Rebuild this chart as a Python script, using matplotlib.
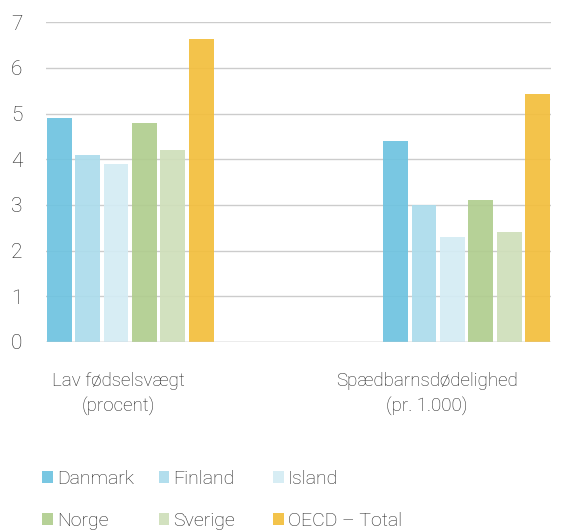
import matplotlib.pyplot as plt
import numpy as np

# data
categories = ["Lav fødselsvægt\n(procent)", "Spædbarnsdødelighed\n(pr. 1.000)"]
series = ["Danmark", "Finland", "Island", "Norge", "Sverige", "OECD – Total"]
danmark = [4.9, 4.4]
finland = [4.1, 3.0]
island = [3.9, 2.3]
norge = [4.8, 3.1]
sverige = [4.2, 2.4]
oecd = [6.64, 5.43]
values = [danmark, finland, island, norge, sverige, oecd]
colors = ["#6ec3e0", "#acdcec", "#d4ecf4", "#b0cd8e", "#cfdfba", "#f3be3c"]

plt.rcParams['font.family'] = ['Roboto', 'DejaVu Sans']
plt.rcParams['font.weight'] = 'light'
txt = "#222222"

fig = plt.figure(figsize=(5.69, 5.30), dpi=100)
ax = fig.add_axes([0.081, 0.355, 0.887, 0.603])

x = np.arange(len(categories))
step = 0.0845
width = 0.074
handles = []
for i, (name, vals) in enumerate(zip(series, values)):
    b = ax.bar(x + (i - 2.5) * step, vals, width, color=colors[i], alpha=0.92,
               label=name, zorder=3)
    handles.append(b)

ax.set_xlim(-0.25, 1.25)
ax.set_ylim(0, 7)
ax.set_yticks(range(0, 8))
ax.grid(axis='y', color='#cccccc', linewidth=1, zorder=0)
ax.axhline(0, color='#cccccc', linewidth=1, zorder=4)
for s in ax.spines.values():
    s.set_visible(False)
ax.tick_params(axis='y', length=0, labelsize=15, labelcolor=txt, pad=17)
ax.set_xticks([-0.034, 0.882])
ax.set_xticklabels(categories, fontsize=13.5, color=txt, linespacing=1.45)
ax.tick_params(axis='x', length=0, pad=22)

# legend: one column per legend so columns sit at fixed spots, row-major
col_x = [0.074, 0.279, 0.480]
for c in range(3):
    idx = [c, c + 3]
    lg = fig.legend([handles[i] for i in idx], [series[i] for i in idx],
                    loc='lower left', bbox_to_anchor=(col_x[c], 0.0),
                    borderaxespad=0, borderpad=0, frameon=False, fontsize=14,
                    handlelength=0.55, handleheight=0.55, handletextpad=0.2,
                    labelspacing=1.25, labelcolor=txt)

fig.savefig("out.png", dpi=100)
